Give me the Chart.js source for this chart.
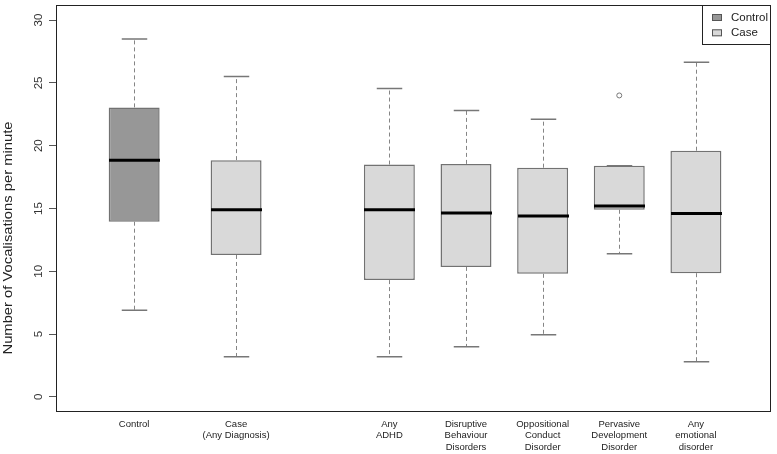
<!DOCTYPE html>
<html>
<head>
<meta charset="utf-8">
<script src="https://cdn.jsdelivr.net/npm/chart.js"></script>
<style>
  html, body { margin: 0; padding: 0; background: #fff; }
  canvas { display: block; }
</style>
</head>
<body>
<canvas id="grafico" width="777" height="454"></canvas>
<script>
// groups along the x axis (R-style boxplot, "at" positions)
const tickLabels = [['Control'], ['Case', '(Any Diagnosis)'], ['Any', 'ADHD'], ['Disruptive', 'Behaviour', 'Disorders'],
  ['Oppositional', 'Conduct', 'Disorder'], ['Pervasive', 'Development', 'Disorder'], ['Any', 'emotional', 'disorder']];
const positions = [0.67, 2, 4, 5, 6, 7, 8];
const groupType = ['Control', 'Case', 'Case', 'Case', 'Case', 'Case', 'Case'];

// five number summaries
const whiskerLow  = [6.9, 3.2, 3.2, 4.0, 4.95, 11.4, 2.8];
const q1          = [13.95, 11.3, 9.3, 10.35, 9.8, 14.9, 9.85];
const median      = [18.85, 14.9, 14.9, 14.65, 14.4, 15.2, 14.6];
const q3          = [23.05, 18.85, 18.5, 18.55, 18.25, 18.4, 19.6];
const whiskerHigh = [28.5, 25.5, 24.55, 22.8, 22.1, 18.4, 26.65];
const outliers    = [[], [], [], [], [], [24.0], []];

const yTicks = [0, 5, 10, 15, 20, 25, 30];

Chart.defaults.font.family = '"Liberation Sans", Arial, sans-serif';

const boxData = tipo => positions
  .map((p, i) => ({ x: p, y: [q1[i], q3[i]], t: groupType[i] }))
  .filter(d => d.t === tipo);

const outlierPoints = [];
outliers.forEach((vals, i) => vals.forEach(v => outlierPoints.push({ x: positions[i], y: v })));

// whiskers, staples and medians
const boxExtras = {
  id: 'boxExtras',
  afterDatasetsDraw(chart) {
    const { ctx, scales: { x, y } } = chart;
    const w = chart.getDatasetMeta(1).data[0].width;
    ctx.save();
    positions.forEach((p, i) => {
      const px = Math.round(x.getPixelForValue(p)) + 0.5;
      ctx.strokeStyle = '#858585';
      ctx.lineWidth = 1;
      ctx.setLineDash([4, 3]);
      ctx.beginPath();
      ctx.moveTo(px, y.getPixelForValue(q3[i]));
      ctx.lineTo(px, y.getPixelForValue(whiskerHigh[i]));
      ctx.moveTo(px, y.getPixelForValue(q1[i]));
      ctx.lineTo(px, y.getPixelForValue(whiskerLow[i]));
      ctx.stroke();
      ctx.setLineDash([]);
      ctx.strokeStyle = '#777';
      ctx.lineWidth = 1.5;
      ctx.beginPath();
      [whiskerHigh[i], whiskerLow[i]].forEach(v => {
        const py = y.getPixelForValue(v);
        ctx.moveTo(px - w / 4, py);
        ctx.lineTo(px + w / 4, py);
      });
      ctx.stroke();
      ctx.strokeStyle = '#000';
      ctx.lineWidth = 3;
      ctx.beginPath();
      const pm = y.getPixelForValue(median[i]);
      ctx.moveTo(px - w / 2, pm);
      ctx.lineTo(px + w / 2, pm);
      ctx.stroke();
    });
    ctx.restore();
  }
};

// frame, y title and legend box
const frameAndLegend = {
  id: 'frameAndLegend',
  afterDraw(chart) {
    const { ctx, chartArea: a } = chart;
    ctx.save();
    ctx.strokeStyle = '#222';
    ctx.lineWidth = 1;
    ctx.strokeRect(a.left + 0.5, a.top + 0.5, a.right - a.left - 1, a.bottom - a.top - 1);

    // y axis title (stretched along the text like the original)
    ctx.save();
    ctx.translate(8.5, 238);
    ctx.rotate(-Math.PI / 2);
    ctx.scale(1.23, 1);
    ctx.font = '12px "Liberation Sans", Arial, sans-serif';
    ctx.fillStyle = '#222';
    ctx.textAlign = 'center';
    ctx.textBaseline = 'middle';
    ctx.fillText('Number of Vocalisations per minute', 0, 0);
    ctx.restore();

    // legend
    const lw = 69, lh = 40;
    const lx = a.right - lw, ly = a.top;
    ctx.fillStyle = '#fff';
    ctx.fillRect(lx, ly, lw, lh);
    ctx.strokeRect(lx + 0.5, ly + 0.5, lw - 1, lh - 1);
    ctx.font = '11.5px "Liberation Sans", Arial, sans-serif';
    ctx.textAlign = 'left';
    ctx.textBaseline = 'middle';
    chart.data.datasets.slice(0, 2).forEach((ds, k) => {
      const cy = ly + 12.5 + k * 15.3;
      ctx.fillStyle = ds.backgroundColor;
      ctx.fillRect(lx + 10, cy - 3.5, 10, 7);
      ctx.strokeStyle = '#555';
      ctx.strokeRect(lx + 10.5, cy - 3, 9, 6);
      ctx.fillStyle = '#222';
      ctx.fillText(ds.label, lx + 29, cy);
    });
    ctx.restore();
  }
};

new Chart(document.getElementById('grafico'), {
  type: 'bar',
  data: {
    datasets: [
      {
        label: 'Control',
        data: boxData('Control'),
        backgroundColor: '#979797',
        borderColor: '#727272',
        borderWidth: 1.5,
        borderSkipped: false,
        grouped: false,
        barPercentage: 0.665,
        categoryPercentage: 1
      },
      {
        label: 'Case',
        data: boxData('Case'),
        backgroundColor: '#d9d9d9',
        borderColor: '#727272',
        borderWidth: 1.5,
        borderSkipped: false,
        grouped: false,
        barPercentage: 0.665,
        categoryPercentage: 1
      },
      {
        type: 'scatter',
        label: 'outlier',
        data: outlierPoints,
        pointStyle: 'circle',
        pointRadius: 2.5,
        borderColor: '#777',
        borderWidth: 1,
        backgroundColor: '#fff'
      }
    ]
  },
  options: {
    responsive: false,
    animation: false,
    layout: { padding: { top: 4, right: 6, left: 0, bottom: 0 } },
    plugins: {
      legend: { display: false },
      tooltip: { enabled: false }
    },
    scales: {
      x: {
        type: 'linear',
        offset: false,
        min: -0.35,
        max: 8.98,
        afterBuildTicks: s => { s.ticks = positions.map(v => ({ value: v })); },
        afterFit: s => { s.height = 42; s.paddingLeft = 0; s.paddingRight = 0; },
        grid: { display: false, drawTicks: false },
        border: { display: false },
        ticks: {
          autoSkip: false,
          maxRotation: 0,
          padding: 6,
          color: '#222',
          font: { size: 9.5, lineHeight: 1.24 },
          callback: (v, i) => tickLabels[i]
        }
      },
      y: {
        min: -1.2,
        max: 31.2,
        afterBuildTicks: s => { s.ticks = yTicks.map(v => ({ value: v })); },
        afterFit: s => { s.width = 56; s.paddingTop = 0; s.paddingBottom = 0; },
        grid: { drawOnChartArea: false, tickLength: 7, color: '#555' },
        border: { display: false },
        ticks: {
          minRotation: 90,
          maxRotation: 90,
          crossAlign: 'center',
          padding: 4,
          color: '#333',
          font: { size: 11.5 }
        }
      }
    }
  },
  plugins: [boxExtras, frameAndLegend]
});
</script>
</body>
</html>
